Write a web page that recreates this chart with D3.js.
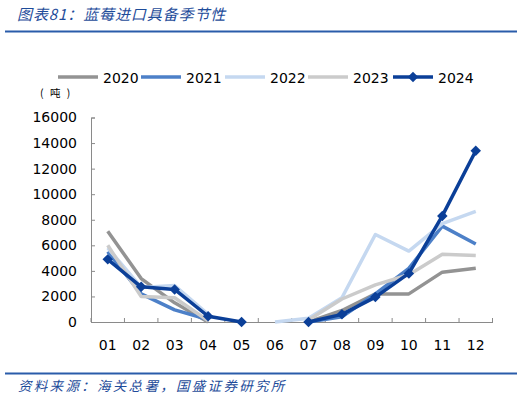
<!DOCTYPE html>
<html><head><meta charset="utf-8">
<script src="https://cdn.jsdelivr.net/npm/d3@7"></script>
<style>body{margin:0;background:#fff}svg{display:block}</style>
</head><body>
<script>
const months = ["01","02","03","04","05","06","07","08","09","10","11","12"];
const yTicks = [0,2000,4000,6000,8000,10000,12000,14000,16000];
const seriesNames = ["2020","2021","2022","2023","2024"];
const s2020 = [7100,3400,1500,0,null,null,0,900,2200,2200,3900,4200];
const s2021 = [5500,2200,950,200,null,null,0,400,2200,4200,7500,6100];
const s2022 = [5800,2700,2850,600,null,0,300,1900,6850,5550,7700,8650];
const s2023 = [6000,2000,1900,100,null,null,150,1800,2900,3700,5300,5200];
const s2024 = [4900,2750,2550,450,0,null,0,600,1950,3800,8300,13400];
const colors = ["#939393","#4D80C8","#C5D8F0","#CBCBCB","#0B3F98"];
const allSeries = [s2020,s2021,s2022,s2023,s2024];

const W=525,H=399;
const svg=d3.select("body").append("svg").attr("width",W).attr("height",H);
const font="'Noto Sans CJK SC','Noto Sans',sans-serif";

// title
svg.append("text").attr("x",17).attr("y",20).attr("fill","#1E4C9A").attr("font-family",font)
  .attr("font-size",15).attr("letter-spacing",0.9).attr("font-style","italic").text("图表81：蓝莓进口具备季节性");
svg.append("rect").attr("x",5).attr("y",30.5).attr("width",512).attr("height",2).attr("fill","#2A5CAA");
svg.append("rect").attr("x",5).attr("y",372.5).attr("width",512).attr("height",2).attr("fill","#2A5CAA");
svg.append("text").attr("x",18).attr("y",391).attr("fill","#1E4C9A").attr("font-family",font)
  .attr("font-size",13.5).attr("letter-spacing",2.3).attr("font-style","italic").text("资料来源：海关总署，国盛证券研究所");

const x0=91, x1=492.5, yb=322, yt=117.5;
const x=d3.scaleBand().domain(months).range([x0,x1]);
const y=d3.scaleLinear().domain([0,16000]).range([yb,yt]);
const axisColor="#8A8A8A";

const ya=svg.append("g").attr("transform",`translate(${x0},0)`)
  .call(d3.axisLeft(y).tickValues(yTicks).tickSize(-4).tickPadding(14).tickFormat(d3.format("d")));
ya.select(".domain").attr("stroke",axisColor);
ya.selectAll(".tick line").attr("stroke",axisColor);
ya.selectAll("text").attr("font-family","'DejaVu Sans',sans-serif").attr("font-size",14).attr("fill","#000");

const xa=svg.append("g").attr("transform",`translate(0,${yb})`)
  .call(d3.axisBottom(x).tickSize(0).tickPadding(18));
xa.select(".domain").attr("stroke",axisColor);
xa.selectAll("text").attr("font-family","'DejaVu Sans',sans-serif").attr("font-size",14).attr("fill","#000");
const bounds=d3.range(months.length+1).map(i=>x0+i*x.step());
svg.append("g").selectAll("line").data(bounds).join("line")
  .attr("x1",d=>d).attr("x2",d=>d).attr("y1",yb).attr("y2",yb-4).attr("stroke",axisColor);

svg.append("text").attr("x",40).attr("y",97).attr("font-family",font).attr("font-size",10.5)
  .attr("letter-spacing",2).attr("fill","#000").text("( 吨 )");

const cx=i=>x(months[i])+x.bandwidth()/2;
const line=d3.line().defined(d=>d!=null).x((d,i)=>cx(i)).y(d=>y(d));
const lineG=svg.append("g");
allSeries.forEach((s,k)=>{
  lineG.append("path").datum(s).attr("d",line).attr("fill","none").attr("stroke",colors[k])
    .attr("stroke-width",3.5).attr("stroke-linejoin","round");
});
const diamond=d3.symbol().type(d3.symbolDiamond2).size(70);
lineG.append("g").selectAll("path").data(s2024.map((v,i)=>[v,i]).filter(d=>d[0]!=null)).join("path")
  .attr("d",diamond).attr("transform",d=>`translate(${cx(d[1])},${y(d[0])})`).attr("fill",colors[4]);

// legend
const lx=[58,141,225,308,393];
const lg=svg.append("g");
seriesNames.forEach((n,k)=>{
  lg.append("line").attr("x1",lx[k]).attr("x2",lx[k]+40).attr("y1",77).attr("y2",77)
    .attr("stroke",colors[k]).attr("stroke-width",3.5);
  if(k===4) lg.append("path").attr("d",diamond).attr("transform",`translate(${lx[k]+20},77)`).attr("fill",colors[k]);
  lg.append("text").attr("x",lx[k]+45).attr("y",82.5).attr("font-family","'DejaVu Sans',sans-serif")
    .attr("font-size",14).attr("fill","#000").text(n);
});
</script>
</body></html>
